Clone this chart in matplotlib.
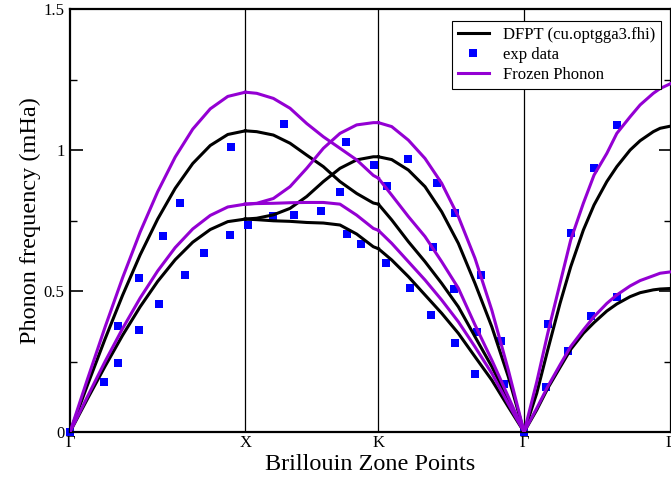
import matplotlib
matplotlib.use("Agg")
import matplotlib.pyplot as plt
from matplotlib.ticker import MultipleLocator

plt.rcParams['font.family'] = ['Liberation Serif', 'DejaVu Serif']

# high-symmetry points (path coordinate)
sym_labels = ["Γ", "X", "K", "Γ", "L"]
sym_pos = [0.0, 1.0, 1.759, 2.590, 3.428]

# ---- Gamma - X ----
x_GX = [0.0, 0.1, 0.2, 0.3, 0.4, 0.5, 0.6, 0.7, 0.8, 0.9, 1.0]
dfpt_GX_LA = [0.0, 0.167, 0.330, 0.485, 0.628, 0.755, 0.864, 0.952, 1.016, 1.055, 1.068]
dfpt_GX_TA = [0.0, 0.118, 0.233, 0.343, 0.444, 0.534, 0.611, 0.673, 0.718, 0.746, 0.755]
fp_GX_LA = [0.0, 0.188, 0.372, 0.547, 0.709, 0.852, 0.975, 1.074, 1.146, 1.190, 1.205]
fp_GX_TA = [0.0, 0.126, 0.250, 0.367, 0.475, 0.571, 0.654, 0.720, 0.768, 0.798, 0.808]

# ---- X - K ----
x_XK = [1.0, 1.065, 1.160, 1.255, 1.350, 1.445, 1.540, 1.635, 1.730, 1.759]
dfpt_XK_1 = [1.068, 1.065, 1.053, 1.024, 0.982, 0.941, 0.888, 0.846, 0.812, 0.808]
dfpt_XK_2 = [0.755, 0.758, 0.770, 0.793, 0.835, 0.888, 0.935, 0.965, 0.976, 0.976]
dfpt_XK_3 = [0.755, 0.753, 0.749, 0.747, 0.743, 0.741, 0.734, 0.702, 0.657, 0.650]
fp_XK_1 = [1.205, 1.201, 1.183, 1.148, 1.094, 1.047, 1.006, 0.965, 0.910, 0.900]
fp_XK_2 = [0.808, 0.811, 0.828, 0.870, 0.935, 1.006, 1.059, 1.089, 1.097, 1.097]
fp_XK_3 = [0.808, 0.810, 0.811, 0.813, 0.814, 0.814, 0.808, 0.769, 0.722, 0.715]

# ---- K - Gamma ----
x_KG = [1.759, 1.835, 1.930, 2.025, 2.120, 2.215, 2.310, 2.406, 2.500, 2.590]
dfpt_KG_1 = [0.976, 0.966, 0.929, 0.870, 0.781, 0.669, 0.527, 0.373, 0.196, 0.0]
dfpt_KG_2 = [0.808, 0.752, 0.675, 0.604, 0.527, 0.444, 0.338, 0.232, 0.113, 0.0]
dfpt_KG_3 = [0.650, 0.610, 0.551, 0.486, 0.421, 0.350, 0.267, 0.184, 0.089, 0.0]
fp_KG_1 = [1.097, 1.083, 1.035, 0.970, 0.882, 0.764, 0.616, 0.432, 0.220, 0.0]
fp_KG_2 = [0.900, 0.840, 0.764, 0.693, 0.604, 0.510, 0.380, 0.255, 0.125, 0.0]
fp_KG_3 = [0.715, 0.669, 0.604, 0.539, 0.468, 0.391, 0.302, 0.208, 0.100, 0.0]

# ---- Gamma - L ----
x_GL = [2.590, 2.662, 2.725, 2.795, 2.856, 2.928, 2.989, 3.062, 3.119, 3.195, 3.252, 3.327, 3.366, 3.428]
dfpt_GL_LA = [0.0, 0.137, 0.291, 0.456, 0.586, 0.716, 0.805, 0.888, 0.941, 1.000, 1.033, 1.065, 1.077, 1.085]
dfpt_GL_TA = [0.0, 0.078, 0.155, 0.229, 0.293, 0.350, 0.388, 0.429, 0.454, 0.480, 0.494, 0.504, 0.507, 0.509]
fp_GL_LA = [0.0, 0.177, 0.350, 0.527, 0.681, 0.811, 0.911, 0.988, 1.059, 1.118, 1.160, 1.201, 1.218, 1.236]
fp_GL_TA = [0.0, 0.084, 0.161, 0.238, 0.303, 0.362, 0.409, 0.456, 0.486, 0.518, 0.537, 0.554, 0.563, 0.568]

# ---- experimental data ----
exp_x = [0.0, 0.192, 0.272, 0.272, 0.392, 0.392, 0.506, 0.529, 0.656, 0.629, 0.764, 0.911, 0.918,
         1.013, 1.160, 1.221, 1.280, 1.430, 1.540, 1.573, 1.582, 1.659, 1.735, 1.807, 1.805,
         1.928, 1.938, 2.059, 2.071, 2.092, 2.191, 2.198, 2.198, 2.310, 2.322, 2.343, 2.457, 2.478,
         2.590, 2.714, 2.725, 2.841, 2.856, 2.974, 2.989, 3.120, 3.119]
exp_y = [0.0, 0.178, 0.245, 0.377, 0.360, 0.546, 0.455, 0.694, 0.558, 0.813, 0.635, 0.697, 1.011,
         0.735, 0.766, 1.091, 0.770, 0.784, 0.852, 1.028, 0.702, 0.667, 0.947, 0.873, 0.600,
         0.969, 0.511, 0.416, 0.657, 0.884, 0.508, 0.316, 0.778, 0.206, 0.356, 0.557, 0.322, 0.171,
         0.0, 0.160, 0.383, 0.288, 0.707, 0.412, 0.935, 0.478, 1.089]

black = "#000000"
purple = "#9400D3"
blue = "#0000FF"

fig = plt.figure(figsize=(6.71, 4.80), dpi=100)
ax = fig.add_axes([70 / 671, 48 / 480, 601 / 671, 423 / 480])

# vertical lines at high-symmetry points
for p in sym_pos[1:-1]:
    ax.axvline(p, color="black", lw=0.9, zorder=1)

h_exp, = ax.plot(exp_x, exp_y, linestyle="none", marker="s", ms=5.8, color=blue,
                 markeredgewidth=0, zorder=2, clip_on=False)

dfpt_sets = [(x_GX, [dfpt_GX_LA, dfpt_GX_TA]), (x_XK, [dfpt_XK_1, dfpt_XK_2, dfpt_XK_3]),
             (x_KG, [dfpt_KG_1, dfpt_KG_2, dfpt_KG_3]), (x_GL, [dfpt_GL_LA, dfpt_GL_TA])]
fp_sets = [(x_GX, [fp_GX_LA, fp_GX_TA]), (x_XK, [fp_XK_1, fp_XK_2, fp_XK_3]),
           (x_KG, [fp_KG_1, fp_KG_2, fp_KG_3]), (x_GL, [fp_GL_LA, fp_GL_TA])]

h_dfpt = None
for xs, branches in dfpt_sets:
    for b in branches:
        h_dfpt, = ax.plot(xs, b, color=black, lw=2.2, zorder=3, solid_joinstyle="round")
h_fp = None
for xs, branches in fp_sets:
    for b in branches:
        h_fp, = ax.plot(xs, b, color=purple, lw=2.2, zorder=3, solid_joinstyle="round")

ax.set_xlim(sym_pos[0], sym_pos[-1])
ax.set_ylim(0, 1.5)
ax.set_xticks(sym_pos)
ax.set_xticklabels(sym_labels, fontsize=12)
ax.tick_params(axis="x", length=0, pad=2)
ax.yaxis.set_minor_locator(MultipleLocator(0.25))
ax.set_yticks([0, 0.5, 1.0, 1.5])
ax.set_yticklabels(["0", "0.5", "1", "1.5"], fontsize=12)
ax.tick_params(axis="y", which="major", direction="in", length=9, width=1.2, left=True, right=True, pad=4)
ax.tick_params(axis="y", which="minor", direction="in", length=5, width=1.0, left=True, right=True)
for s in ax.spines.values():
    s.set_linewidth(1.6)

ax.set_xlabel("Brillouin Zone Points", fontsize=17.5, labelpad=2)
ax.set_ylabel("Phonon frequency (mHa)", fontsize=17.5, labelpad=2)

leg = ax.legend([h_dfpt, h_exp, h_fp], ["DFPT (cu.optgga3.fhi)", "exp data", "Frozen Phonon"],
                loc="upper right", bbox_to_anchor=(660.7 / 671, 1 - 20.7 / 480),
                bbox_transform=fig.transFigure, fontsize=12, frameon=True, fancybox=False,
                edgecolor="black", framealpha=1, borderpad=0.35, labelspacing=0.25,
                handlelength=1.9, handletextpad=0.8, borderaxespad=0)
leg.get_frame().set_linewidth(0.8)
leg.set_zorder(5)

fig.savefig("out.png", dpi=100)
